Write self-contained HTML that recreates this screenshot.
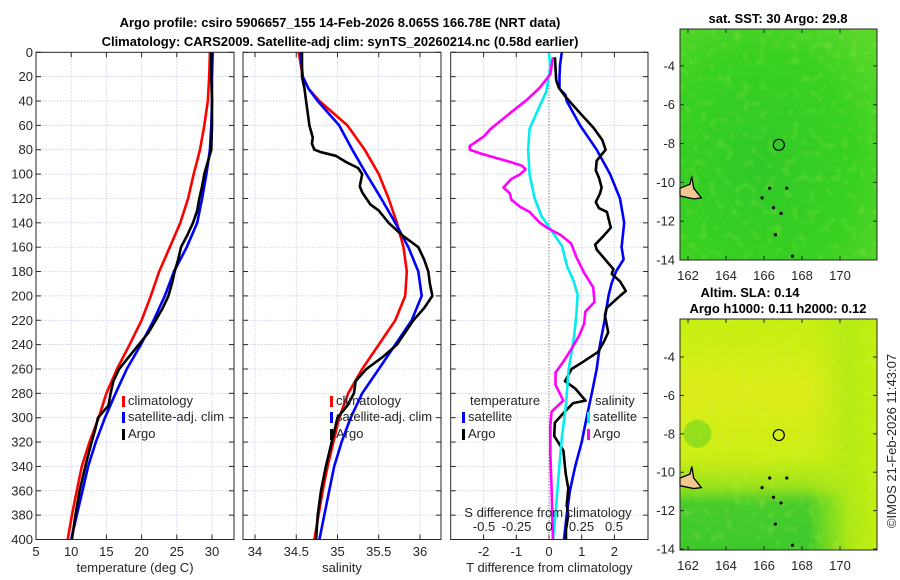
<!DOCTYPE html>
<html><head><meta charset="utf-8"><style>
html,body{margin:0;padding:0;background:#fff;}
svg{display:block;font-family:"Liberation Sans",sans-serif;}
</style></head><body>
<svg id="fig" width="900" height="580" viewBox="0 0 900 580" xmlns="http://www.w3.org/2000/svg">
<defs>
<radialGradient id="sstg" cx="0.4" cy="0.6" r="0.8">
<stop offset="0" stop-color="#30c828"/><stop offset="0.6" stop-color="#38d022"/><stop offset="1" stop-color="#5ad82a"/>
</radialGradient>
<linearGradient id="slag" x1="0" y1="0" x2="0" y2="1">
<stop offset="0" stop-color="#c4f010"/><stop offset="0.3" stop-color="#dcec18"/><stop offset="0.6" stop-color="#ccee14"/><stop offset="0.72" stop-color="#9ee21a"/><stop offset="0.8" stop-color="#48cc2c"/><stop offset="1" stop-color="#3cc82c"/>
</linearGradient>
<linearGradient id="slar" x1="0" y1="0" x2="1" y2="0">
<stop offset="0" stop-color="#c0ee12" stop-opacity="0"/><stop offset="0.65" stop-color="#c0ee12" stop-opacity="0"/><stop offset="0.85" stop-color="#b4ea14" stop-opacity="0.9"/><stop offset="1" stop-color="#c4f010" stop-opacity="1"/>
</linearGradient>
<filter id="noise"><feTurbulence type="fractalNoise" baseFrequency="0.12" numOctaves="1" seed="3"/><feColorMatrix type="matrix" values="0 0 0 0 0.6  0 0 0 0 0.95  0 0 0 0 0.1  0 0 0 1.6 -0.85"/><feComposite in2="SourceGraphic" operator="in"/></filter>
</defs>
<g id="root"></g>
</svg>
<script>
// ---------- data ----------
const depthTicks = [0,20,40,60,80,100,120,140,160,180,200,220,240,260,280,300,320,340,360,380,400];
const tempTicks = [5,10,15,20,25,30];
const salTicks = [34,34.5,35,35.5,36];
const salTickLabels = ["34","34.5","35","35.5","36"];
const tdiffTicks = [-2,-1,0,1,2];
const sdiffTicks = [-0.5,-0.25,0,0.25,0.5];
const sdiffTickLabels = ["-0.5","-0.25","0","0.25","0.5"];

const stdDepth = [0,20,40,60,80,100,120,140,160,180,200,220,240,260,280,300,320,340,360,380,400];
const tempClim = [29.7,29.6,29.4,28.9,28.3,27.4,26.6,25.5,24.0,22.5,21.3,20.0,18.3,16.5,15.0,13.9,12.6,11.5,10.8,10.1,9.5];
const tempSat  = [30.1,30.0,30.0,29.9,29.7,29.2,28.6,27.9,26.4,24.6,23.3,21.7,19.9,17.9,16.3,14.8,13.5,12.4,11.6,10.8,10.0];
const argoDepthT = [0,20,40,60,80,90,100,110,120,130,140,150,160,170,180,190,200,210,220,230,240,250,260,270,280,290,300,310,320,340,360,380,400];
const tempArgo   = [29.9,29.9,30.0,30.0,29.9,29.4,28.9,28.6,28.2,27.9,27.3,26.5,25.6,25.2,24.7,24.3,23.8,23.0,22.0,21.0,19.6,18.2,16.8,16.0,15.6,15.3,13.8,13.4,12.9,12.0,11.2,10.6,10.1];

const salDepthC = [0,20,30,40,60,80,100,120,140,160,180,200,220,240,260,280,300,320,340,360,380,400];
const salClim = [34.53,34.58,34.65,34.78,35.12,35.33,35.5,35.62,35.72,35.8,35.84,35.82,35.7,35.5,35.3,35.13,35.02,34.95,34.88,34.82,34.77,34.72];
const salSat  = [34.55,34.58,34.65,34.76,35.02,35.18,35.35,35.53,35.7,35.86,35.98,36.02,35.9,35.7,35.5,35.3,35.16,35.05,34.96,34.9,34.84,34.78];
const argoDepthS = [0,20,30,40,60,70,75,80,82,85,90,95,100,110,115,125,130,140,150,160,170,180,190,200,210,220,240,250,260,270,280,290,300,320,340,360,380,400];
const salArgo    = [34.57,34.57,34.6,34.62,34.66,34.7,34.69,34.72,34.8,34.98,35.1,35.25,35.3,35.27,35.3,35.4,35.5,35.62,35.78,35.98,36.05,36.1,36.12,36.15,36.05,35.92,35.72,35.55,35.35,35.22,35.2,35.12,35.0,34.93,34.86,34.8,34.76,34.74];

const dSatT = [0,10,20,30,35,40,60,80,100,120,140,150,160,170,180,190,200,220,240,260,280,300,320,340,360,380,400];
const tdiffSat = [0.39,0.34,0.32,0.32,0.5,0.54,0.95,1.46,1.87,2.17,2.3,2.26,2.22,2.28,2.05,1.91,1.82,1.7,1.56,1.46,1.31,1.15,1.0,0.8,0.64,0.54,0.46];
const dArgoT = [4,23,29,36,50,62,72,80,89,97,103,111,116,123,128,131,144,151,158,162,178,182,188,196,200,210,216,230,237,246,254,260,270,276,286,288,294,304,315,327,346,358,372,380,392,400];
const tdiffArgo = [0.18,0.22,0.30,0.49,0.95,1.36,1.63,1.73,1.46,1.43,1.53,1.61,1.56,1.43,1.53,1.77,1.89,1.66,1.41,1.46,1.97,1.92,2.17,2.35,2.17,1.76,1.71,1.81,1.69,1.50,1.05,0.69,0.49,0.80,1.12,0.74,0.52,0.18,0.16,0.44,0.51,0.59,0.54,0.59,0.52,0.52];
const dArgoS = [4,18,29,39,50,63,69,77,80,83,90,93,96,100,104,111,116,121,127,131,140,145,150,157,168,181,193,205,213,223,233,244,254,263,273,286,295,307,329,358,400];
const sdiffArgo = [0.03,0.01,-0.07,-0.17,-0.30,-0.45,-0.50,-0.61,-0.61,-0.53,-0.30,-0.21,-0.18,-0.22,-0.29,-0.35,-0.30,-0.29,-0.22,-0.15,-0.07,0,0.09,0.17,0.21,0.27,0.34,0.35,0.28,0.27,0.23,0.17,0.11,0.05,0.05,0.11,0.02,0.01,0.01,0.02,0.03];
const dSatS = [1,12,32,46,63,80,100,120,134,145,159,176,188,199,216,236,261,290,315,352,380,400];
const sdiffSat = [0,0.01,-0.02,-0.08,-0.15,-0.16,-0.15,-0.11,-0.06,0.01,0.1,0.14,0.19,0.22,0.21,0.19,0.15,0.13,0.1,0.07,0.05,0.03];

const mapLonTicks = [162,164,166,168,170];
const mapLatTicks = [-4,-6,-8,-10,-12,-14];
const argoLon = 166.78, argoLat = -8.065;

// ---------- helpers ----------
const NS="http://www.w3.org/2000/svg";
const root=document.getElementById('root');
function mk(tag,attrs,parent){const e=document.createElementNS(NS,tag);for(const k in attrs)e.setAttribute(k,attrs[k]);(parent||root).appendChild(e);return e;}
function txt(s,x,y,attrs,parent){const e=mk('text',Object.assign({x:x,y:y,'font-size':13,fill:'#262626'},attrs||{}),parent);e.textContent=s;return e;}
const Y0=52.3,Y1=539.5;
const yD=d=>Y0+(d/400)*(Y1-Y0);
function lin(d0,d1,r0,r1){return v=>r0+(v-d0)/(d1-d0)*(r1-r0);}

function panel(name,x0,x1,xs,ticks,labels,xlabel,showY){
  const g=mk('g',{});
  
  
  mk('rect',{x:x0,y:Y0,width:x1-x0,height:Y1-Y0,fill:'#fff'},g);
  depthTicks.forEach(d=>{const y=yD(d);
    mk('line',{x1:x0,x2:x1,y1:y,y2:y,stroke:'#b8c4e0','stroke-width':0.7,'stroke-dasharray':'1.5 1.5'},g);
    mk('line',{x1:x0,x2:x0+5,y1:y,y2:y,stroke:'#262626','stroke-width':1},g);
    mk('line',{x1:x1-5,x2:x1,y1:y,y2:y,stroke:'#262626','stroke-width':1},g);
    if(showY){const t=txt(String(d),x0-3,y+4.5,{'text-anchor':'end'},g);
      }
  });
  ticks.forEach((v,i)=>{const x=xs(v);
    mk('line',{x1:x,x2:x,y1:Y0,y2:Y1,stroke:'#b8c4e0','stroke-width':0.7,'stroke-dasharray':'1.5 1.5'},g);
    mk('line',{x1:x,x2:x,y1:Y1,y2:Y1-5,stroke:'#262626','stroke-width':1},g);
    mk('line',{x1:x,x2:x,y1:Y0,y2:Y0+5,stroke:'#262626','stroke-width':1},g);
    const t=txt(labels[i],x,556,{'text-anchor':'middle'},g);
    
  });
  const xl=txt(xlabel,(x0+x1)/2,572,{'text-anchor':'middle'},g);
  
  return g;
}
function frame(g,x0,x1){mk('rect',{x:x0,y:Y0,width:x1-x0,height:Y1-Y0,fill:'none',stroke:'#262626','stroke-width':1},g);}
function line(g,name,depths,vals,xs,color,w){
  const pts=depths.map((d,i)=>xs(vals[i]).toFixed(1)+','+yD(d).toFixed(1)).join(' ');
  const p=mk('polyline',{points:pts,fill:'none',stroke:color,'stroke-width':w||2.6,'stroke-linejoin':'round'},g);
  
}
function legItem(g,name,x,y,color,label){
  const r=mk('rect',{x:x,y:y-9,width:3,height:11,fill:color},g);
  
  const t=txt(label,x+6,y,{},g);
  
}

// ---------- panel 1: temperature ----------
const xT=lin(5,30,36,212);
const p1=panel('temperature-panel',36,234,xT,tempTicks,tempTicks.map(String),'temperature (deg C)',true);
line(p1,'temp-climatology-line',stdDepth,tempClim,xT,'#ff0000');
line(p1,'temp-satellite-line',stdDepth,tempSat,xT,'#0000ff');
line(p1,'temp-argo-line',argoDepthT,tempArgo,xT,'#000000');
frame(p1,36,234);
legItem(p1,'legend-climatology',122,405,'#ff0000','climatology');
legItem(p1,'legend-satellite-adj',122,421,'#0000ff','satellite-adj. clim');
legItem(p1,'legend-argo',122,438,'#000','Argo');

// ---------- panel 2: salinity ----------
const xS=lin(34,36,255,420);
const p2=panel('salinity-panel',243,441,xS,salTicks,salTickLabels,'salinity',false);
line(p2,'sal-climatology-line',salDepthC,salClim,xS,'#ff0000');
line(p2,'sal-satellite-line',salDepthC,salSat,xS,'#0000ff');
line(p2,'sal-argo-line',argoDepthS,salArgo,xS,'#000000');
frame(p2,243,441);
legItem(p2,'legend-climatology-2',330,405,'#ff0000','climatology');
legItem(p2,'legend-satellite-adj-2',330,421,'#0000ff','satellite-adj. clim');
legItem(p2,'legend-argo-2',330,438,'#000','Argo');

// ---------- panel 3: differences ----------
const xTd=lin(0,1,549,581.7);
const xSd=lin(0,1,549,679);
const p3=panel('difference-panel',450.7,648,xTd,tdiffTicks,tdiffTicks.map(String),'T difference from climatology',false);
mk('line',{x1:549,x2:549,y1:Y0,y2:Y1,stroke:'#555','stroke-width':1,'stroke-dasharray':'1 2'},p3);
line(p3,'tdiff-satellite-line',dSatT,tdiffSat,xTd,'#0000ff');
line(p3,'tdiff-argo-line',dArgoT,tdiffArgo,xTd,'#000000');
line(p3,'sdiff-satellite-line',dSatS,sdiffSat,xSd,'#00eeee');
line(p3,'sdiff-argo-line',dArgoS,sdiffArgo,xSd,'#ff00ff');
frame(p3,450.7,648);
{const t=txt('temperature',470,405,{},p3);}
legItem(p3,'legend-t-satellite',462,421,'#0000ff','satellite');
legItem(p3,'legend-t-argo',462,438,'#000','Argo');
{const t=txt('salinity',595,405,{},p3);}
legItem(p3,'legend-s-satellite',587,421,'#00eeee','satellite');
legItem(p3,'legend-s-argo',587,438,'#ff00ff','Argo');
{const t=txt('S difference from climatology',548,517,{'text-anchor':'middle'},p3);}
sdiffTicks.forEach((v,i)=>{const t=txt(sdiffTickLabels[i],xSd(v),531,{'text-anchor':'middle'},p3);
  });

// ---------- titles ----------
{const t=txt('Argo profile: csiro 5906657_155 14-Feb-2026 8.065S 166.78E (NRT data)',340,27,{'text-anchor':'middle','font-weight':'bold','fill':'#000'});}
{const t=txt('Climatology: CARS2009. Satellite-adj clim: synTS_20260214.nc (0.58d earlier)',340,46,{'text-anchor':'middle','font-weight':'bold','fill':'#000'});}

// ---------- maps ----------
function map(name,title,x0,y0,x1,y1,latTop,latBot,fill,extra,lonY){
  const g=mk('g',{});
  
  const lx=lin(162,170,688,840), ly=lin(latTop,latBot,y0,y1);
  mk('rect',{x:x0,y:y0,width:x1-x0,height:y1-y0,fill:fill},g);
  if(extra)extra(g,lx,ly);
  mk('rect',{x:x0,y:y0,width:x1-x0,height:y1-y0,fill:'#fff',filter:'url(#noise)',opacity:0.45},g);
  const isl=mk('path',{d:`M${x0} ${ly(-10.3)} L${lx(162.1)} ${ly(-10.1)} L${lx(162.2)} ${ly(-9.7)} L${lx(162.3)} ${ly(-10.3)} L${lx(162.7)} ${ly(-10.8)} L${lx(162.3)} ${ly(-10.85)} L${x0} ${ly(-10.7)}Z`,fill:'#f0c890',stroke:'#000','stroke-width':1.3},g);
  
  [[165.9,-10.8],[166.5,-11.3],[166.9,-11.6],[166.6,-12.7],[167.5,-13.8],[167.2,-10.3],[166.3,-10.3]].forEach(p=>{
    mk('circle',{cx:lx(p[0]),cy:ly(p[1]),r:1.6,fill:'#000'},g);});
  const c=mk('circle',{cx:lx(argoLon),cy:ly(argoLat),r:5.5,fill:'none',stroke:'#000','stroke-width':1.2},g);
  
  mk('rect',{x:x0,y:y0,width:x1-x0,height:y1-y0,fill:'none',stroke:'#262626','stroke-width':1},g);
  mapLonTicks.forEach(v=>{const x=lx(v);
    mk('line',{x1:x,x2:x,y1:y1,y2:y1-4,stroke:'#262626'},g);mk('line',{x1:x,x2:x,y1:y0,y2:y0+4,stroke:'#262626'},g);
    const t=txt(String(v),x,lonY,{'text-anchor':'middle'},g);});
  mapLatTicks.forEach(v=>{const y=ly(v);
    mk('line',{x1:x0,x2:x0+4,y1:y,y2:y,stroke:'#262626'},g);mk('line',{x1:x1-4,x2:x1,y1:y,y2:y,stroke:'#262626'},g);
    const t=txt(String(v),x0-5,y+4.5,{'text-anchor':'end'},g);});
  title.forEach((s,i)=>{const t=txt(s[0],s[1],s[2],{'text-anchor':'middle','font-weight':'bold','fill':'#000'},g);
    });
}
map('sst-map',[['sat. SST: 30 Argo: 29.8',778,23]],680,29,877,260,-2.1,-14,'url(#sstg)',null,280);
map('sla-map',[['Altim. SLA: 0.14',750,297],['Argo h1000: 0.11 h2000: 0.12',778,313]],680,319,877,550,-2.02,-14.05,'url(#slag)',(g,lx,ly)=>{
  mk('rect',{x:680,y:319,width:197,height:231,fill:'url(#slar)'},g);
  mk('ellipse',{cx:lx(162.5),cy:ly(-8),rx:14,ry:14,fill:'#6ad422',opacity:0.6},g);
},570);
{const t=txt('©IMOS 21-Feb-2026 11:43:07',0,0,{'text-anchor':'middle',transform:'translate(896,441) rotate(-90)'});}
</script>
</body></html>
